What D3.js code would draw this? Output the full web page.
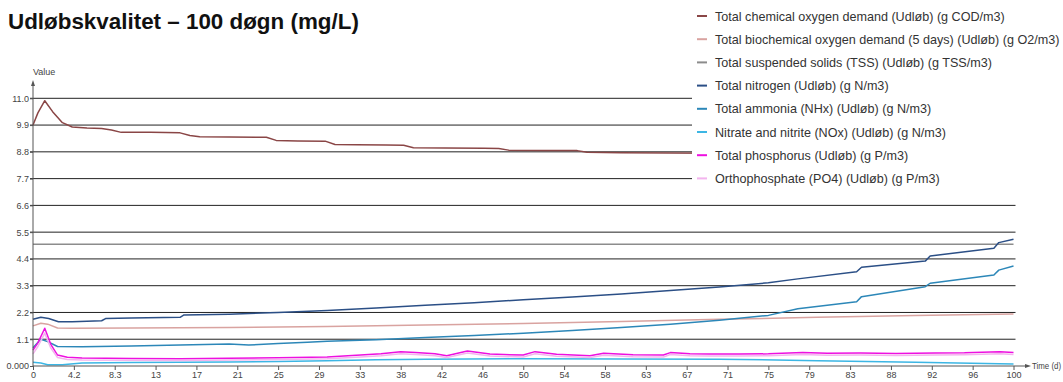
<!DOCTYPE html>
<html>
<head>
<meta charset="utf-8">
<script src="https://cdn.jsdelivr.net/npm/d3@7/dist/d3.min.js"></script>
<style>
  html, body { margin: 0; padding: 0; background: #fff; }
  svg { display: block; font-family: "Liberation Sans", Arial, sans-serif; }
</style>
</head>
<body>
<svg id="chart" width="1063" height="382"></svg>
<script>
// Effluent quality over 100 days (mg/L)
const yTicks = [0, 1.1, 2.2, 3.3, 4.4, 5.5, 6.6, 7.7, 8.8, 9.9, 11.0];
const yTickLabels = ["0.000", "1.1", "2.2", "3.3", "4.4", "5.5", "6.6", "7.7", "8.8", "9.9", "11.0"];
const xTickLabels = ["0", "4.2", "8.3", "13", "17", "21", "25", "29", "33", "38", "42", "46", "50",
                     "54", "58", "63", "67", "71", "75", "79", "83", "88", "92", "96", "100"];

const seriesNames = [
  "Total chemical oxygen demand (Udløb) (g COD/m3)",
  "Total biochemical oxygen demand (5 days) (Udløb) (g O2/m3)",
  "Total suspended solids (TSS) (Udløb) (g TSS/m3)",
  "Total nitrogen (Udløb) (g N/m3)",
  "Total ammonia (NHx) (Udløb) (g N/m3)",
  "Nitrate and nitrite (NOx) (Udløb) (g N/m3)",
  "Total phosphorus (Udløb) (g P/m3)",
  "Orthophosphate (PO4) (Udløb) (g P/m3)"
];
const seriesColors = ["#8a4646", "#d9a3a0", "#8c8c8c", "#2b4f86", "#2c87b8", "#3cb6e4", "#ee10e0", "#f3b4ee"];

const codDays = [0, 0.5, 1.2, 2, 3, 4, 5.5, 7, 8, 9, 12, 15, 16, 17, 20, 23.8, 24.8, 27, 29.8, 30.8, 33, 36, 37.8, 38.8, 42, 46, 47.5, 48.5, 52, 55.5, 56.5, 60, 65, 70, 75, 80, 85, 90, 95, 100];
const codVals = [9.9, 10.4, 10.9, 10.45, 10.0, 9.82, 9.78, 9.76, 9.7, 9.6, 9.6, 9.58, 9.47, 9.42, 9.41, 9.4, 9.27, 9.25, 9.24, 9.1, 9.09, 9.08, 9.07, 8.97, 8.96, 8.95, 8.94, 8.87, 8.86, 8.85, 8.78, 8.76, 8.75, 8.74, 8.72, 8.7, 8.68, 8.66, 8.64, 8.62];

const bodDays = [0, 0.8, 1.5, 2.5, 4, 10, 20, 30, 40, 50, 60, 70, 80, 90, 100];
const bodVals = [1.65, 1.76, 1.72, 1.56, 1.55, 1.56, 1.58, 1.62, 1.68, 1.75, 1.83, 1.92, 2.0, 2.07, 2.14];

const tssDays = [0, 100];
const tssVals = [5.0, 5.0];

const tnDays = [0, 0.8, 1.6, 2.6, 4, 7, 7.4, 10, 15, 15.4, 20, 25, 30, 35, 40, 45, 50, 55, 60, 65, 70, 75, 78, 84, 84.5, 91, 91.5, 98, 98.5, 100];
const tnVals = [1.92, 2.0, 1.95, 1.82, 1.82, 1.86, 1.95, 1.97, 2.0, 2.1, 2.13, 2.2, 2.28, 2.38, 2.5, 2.6, 2.72, 2.84, 2.96, 3.1, 3.25, 3.42, 3.58, 3.87, 4.06, 4.31, 4.52, 4.84, 5.07, 5.21];

const nhxDays = [0, 0.8, 1.5, 2.5, 5, 10, 15, 20, 22, 25, 28, 30, 35, 40, 45, 50, 55, 60, 65, 70, 75, 78, 84, 84.5, 91, 91.5, 98, 98.5, 100];
const nhxVals = [0.75, 1.1, 1.0, 0.8, 0.79, 0.82, 0.86, 0.9, 0.86, 0.92, 0.98, 1.02, 1.08, 1.17, 1.25, 1.35, 1.46, 1.58, 1.72, 1.88, 2.08, 2.35, 2.64, 2.85, 3.26, 3.4, 3.74, 3.94, 4.11];

const noxDays = [0, 0.8, 1.5, 3, 5, 10, 15, 20, 25, 30, 35, 40, 50, 60, 70, 80, 90, 100];
const noxVals = [0.15, 0.12, 0.05, 0.05, 0.12, 0.14, 0.15, 0.16, 0.18, 0.22, 0.26, 0.28, 0.3, 0.29, 0.28, 0.22, 0.15, 0.08];

const tpDays = [0, 0.5, 1.2, 1.8, 2.5, 3.5, 5, 10, 15, 20, 25, 30, 33.4, 35.5, 37.5, 39, 41, 42.2, 44.3, 46.6, 48, 50, 51.2, 53.4, 56.8, 58.2, 61.2, 64.3, 65, 67, 69, 72, 75, 78.5, 81, 84.4, 88, 92, 95, 98.6, 100];
const tpVals = [0.65, 0.95, 1.55, 0.9, 0.45, 0.36, 0.33, 0.31, 0.3, 0.32, 0.34, 0.37, 0.45, 0.5, 0.59, 0.55, 0.5, 0.42, 0.62, 0.49, 0.47, 0.45, 0.59, 0.48, 0.42, 0.52, 0.46, 0.45, 0.55, 0.5, 0.49, 0.49, 0.5, 0.55, 0.52, 0.53, 0.51, 0.53, 0.54, 0.59, 0.55];

const po4Days = [0, 0.5, 1.2, 1.8, 2.5, 3.5, 5, 10, 15, 20, 25, 30, 33.4, 35.5, 37.5, 39, 41, 42.2, 44.3, 46.6, 48, 50, 51.2, 53.4, 56.8, 58.2, 61.2, 64.3, 65, 67, 69, 72, 75, 78.5, 81, 84.4, 88, 92, 95, 98.6, 100];
const po4Vals = [0.5, 0.8, 1.35, 0.75, 0.35, 0.27, 0.25, 0.24, 0.23, 0.25, 0.27, 0.3, 0.37, 0.42, 0.5, 0.47, 0.42, 0.35, 0.53, 0.41, 0.39, 0.37, 0.5, 0.4, 0.35, 0.44, 0.38, 0.37, 0.47, 0.42, 0.41, 0.41, 0.42, 0.47, 0.44, 0.45, 0.43, 0.45, 0.46, 0.5, 0.47];

const seriesDays = [codDays, bodDays, tssDays, tnDays, nhxDays, noxDays, tpDays, po4Days];
const seriesVals = [codVals, bodVals, tssVals, tnVals, nhxVals, noxVals, tpVals, po4Vals];

// ---- layout ----
const svg = d3.select("#chart");
const plotLeft = 33, plotRight = 1013.5, plotTop = 98.3, plotBottom = 366;

const x = d3.scaleLinear().domain([0, 100]).range([plotLeft, plotRight]);
const y = d3.scaleLinear().domain([0, 11]).range([plotBottom, plotTop]);

const axisColor = "#555";
const labelColor = "#444";

// horizontal gridlines
svg.append("g").selectAll("line").data(yTicks.slice(1)).join("line")
  .attr("x1", plotLeft - 3).attr("x2", plotRight + 2)
  .attr("y1", d => y(d)).attr("y2", d => y(d))
  .attr("stroke", "#222").attr("stroke-width", 1);

// series lines
const line = d3.line().x(d => x(d[0])).y(d => y(d[1]));
svg.append("g").selectAll("path").data(seriesNames).join("path")
  .attr("d", (name, i) => line(d3.zip(seriesDays[i], seriesVals[i])))
  .attr("fill", "none")
  .attr("stroke", (name, i) => seriesColors[i])
  .attr("stroke-width", 1.5)
  .attr("stroke-linejoin", "round");

// y axis
const yAxis = d3.axisLeft(y).tickValues(yTicks)
  .tickFormat((d, i) => yTickLabels[i]).tickSize(3).tickPadding(1);
const gy = svg.append("g").attr("transform", `translate(${plotLeft},0)`).call(yAxis);
gy.select(".domain").remove();
gy.selectAll(".tick line").attr("stroke", axisColor);
gy.selectAll("text").attr("fill", labelColor).style("font-size", "9px")
  .style("font-family", "'Liberation Sans', Arial, sans-serif");
svg.append("line").attr("x1", plotLeft).attr("x2", plotLeft).attr("y1", plotBottom).attr("y2", 83)
  .attr("stroke", axisColor).attr("stroke-width", 1);
svg.append("path").attr("d", `M${plotLeft - 2},86 L${plotLeft},80 L${plotLeft + 2},86 Z`).attr("fill", axisColor);
svg.append("text").attr("x", plotLeft).attr("y", 75).attr("text-anchor", "start")
  .attr("fill", labelColor).style("font-size", "9px").text("Value");

// x axis
const xTickVals = xTickLabels.map((_, i) => i * 100 / 24);
const xAxis = d3.axisBottom(x).tickValues(xTickVals)
  .tickFormat((d, i) => xTickLabels[i]).tickSize(4).tickPadding(2);
const gx = svg.append("g").attr("transform", `translate(0,${plotBottom})`).call(xAxis);
gx.select(".domain").remove();
gx.selectAll(".tick line").attr("stroke", axisColor);
gx.selectAll("text").attr("fill", labelColor).style("font-size", "9px")
  .style("font-family", "'Liberation Sans', Arial, sans-serif");
svg.append("line").attr("x1", plotLeft).attr("x2", 1027).attr("y1", plotBottom).attr("y2", plotBottom)
  .attr("stroke", axisColor).attr("stroke-width", 1);
svg.append("path").attr("d", `M1025,${plotBottom - 2} L1031,${plotBottom} L1025,${plotBottom + 2} Z`).attr("fill", axisColor);
svg.append("text").attr("x", 1032).attr("y", plotBottom + 3).attr("fill", labelColor)
  .style("font-size", "8.5px").attr("textLength", 29).attr("lengthAdjust", "spacingAndGlyphs")
  .text("Time (d)");

// legend panel
const legend = svg.append("g");
legend.append("rect").attr("x", 692).attr("y", 0).attr("width", 371).attr("height", 190).attr("fill", "#fff");
const rowY = i => 16 + i * 23.2;
legend.selectAll("line").data(seriesNames).join("line")
  .attr("x1", 697).attr("x2", 707)
  .attr("y1", (d, i) => rowY(i)).attr("y2", (d, i) => rowY(i))
  .attr("stroke", (d, i) => seriesColors[i]).attr("stroke-width", 2);
legend.selectAll("text").data(seriesNames).join("text")
  .attr("x", 715).attr("y", (d, i) => rowY(i) + 4.5)
  .attr("fill", "#333").style("font-size", "12.6px")
  .text(d => d);

// title
svg.append("text").attr("x", 8).attr("y", 28.5)
  .attr("fill", "#111").style("font-size", "22.4px").style("font-weight", "bold")
  .text("Udløbskvalitet – 100 døgn (mg/L)");
</script>
</body>
</html>
